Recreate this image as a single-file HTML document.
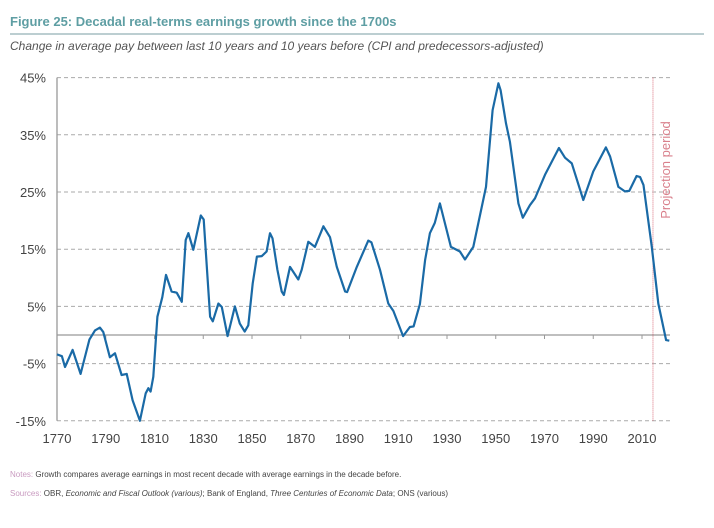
<!DOCTYPE html>
<html><head><meta charset="utf-8"><style>
body{margin:0;background:#fff;width:714px;height:528px;overflow:hidden;font-family:"Liberation Sans",sans-serif}
</style></head><body>
<svg width="714" height="528" style="position:absolute;left:0;top:0">
<text x="10" y="26" font-size="13" fill="#5e9ea3" font-weight="bold">Figure 25:  Decadal real-terms earnings growth since the 1700s</text>
<line x1="10" y1="34" x2="704" y2="34" stroke="#7a9ea3" stroke-width="1"/>
<text x="10" y="50" font-size="12" fill="#555" font-style="italic">Change in average pay between last 10 years and 10 years before (CPI and predecessors-adjusted)</text>
<g id="grid"></g>
<g id="axes"></g>
<path id="series" fill="none" stroke="#1a6aa6" stroke-width="2.2" stroke-linejoin="round"/>
<text x="10" y="477" font-size="8" fill="#444"><tspan fill="#c99bc0">Notes: </tspan>Growth compares average earnings in most recent decade with average earnings in the decade before.</text>
<text x="10" y="496" font-size="8" fill="#444"><tspan fill="#c99bc0">Sources: </tspan>OBR, <tspan font-style="italic">Economic and Fiscal Outlook (various)</tspan>; Bank of England, <tspan font-style="italic">Three Centuries of Economic Data</tspan>; ONS (various)</text>
</svg>
<script>
const years=[1770,1772,1773.3,1776.4,1779.7,1783.3,1785.6,1787.6,1789,1791.7,1793.8,1796.5,1798.6,1801,1804,1806.4,1807.5,1808.4,1809.5,1811.2,1813.2,1814.7,1817,1819.1,1821.2,1822.8,1823.9,1825.9,1829,1830.2,1832.8,1833.9,1836.2,1837.6,1840,1843,1845,1847,1848.5,1850.3,1852,1854,1856,1857.4,1858.4,1860.4,1862.2,1863.1,1865.6,1869,1870.4,1873.1,1875.8,1879.3,1882,1884.8,1888.2,1889,1893,1897.7,1899,1902.5,1905.9,1908,1912,1914.8,1916.3,1918.9,1921,1923,1925,1927.1,1931.6,1935.3,1937.4,1940.8,1946,1948.7,1951.1,1952,1954.2,1955.8,1959.3,1961.1,1964,1966.1,1970.2,1975.9,1978.4,1981.2,1985.9,1990,1995.2,1996.9,2000.3,2003,2004.8,2007.8,2009.2,2010.6,2014,2016.7,2019.9,2021.2];
const values=[-3.4,-3.7,-5.6,-2.6,-6.8,-0.8,0.8,1.3,0.5,-3.9,-3.2,-7,-6.8,-11.4,-15,-10.2,-9.3,-9.9,-7.3,3.2,6.6,10.5,7.6,7.4,5.8,16.6,17.8,14.9,20.9,20.2,3.2,2.4,5.5,4.9,-0.2,5,2,0.6,1.7,9,13.7,13.8,14.6,17.8,16.9,11.4,7.6,7,11.9,9.7,11.4,16.3,15.4,19,17.1,11.9,7.6,7.5,11.9,16.5,16.2,11.4,5.5,4.2,-0.2,1.4,1.5,5.4,13.1,17.8,19.6,23,15.4,14.6,13.2,15.4,25.9,39.3,44,42.8,37,33.8,23,20.5,22.7,23.9,28,32.7,31,30,23.6,28.6,32.8,31.2,25.9,25.1,25.2,27.8,27.6,26.2,15.4,5.5,-0.9,-1.0];
const yTicks=[45,35,25,15,5,-5,-15];
const yLabels=["45%","35%","25%","15%","5%","-5%","-15%"];
const xTicks=[1770,1790,1810,1830,1850,1870,1890,1910,1930,1950,1970,1990,2010];
const projectionYear=2014.5;
const X=y=>57+(y-1770)*2.4375, Y=v=>335-v*5.72;
const ns="http://www.w3.org/2000/svg";
function mk(tag,attrs,parent,txt){const e=document.createElementNS(ns,tag);for(const k in attrs)e.setAttribute(k,attrs[k]);if(txt!=null)e.textContent=txt;parent.appendChild(e);return e;}
const g=document.getElementById('grid'),a=document.getElementById('axes');
yTicks.forEach((v,i)=>{
 const l=mk('line',{x1:X(1770),x2:670,y1:Y(v),y2:Y(v),stroke:'#aaa','stroke-dasharray':'4,3','stroke-width':1},g);
 
 
 const t=mk('text',{x:46,y:Y(v)+5,'font-size':13,fill:'#444','text-anchor':'end'},a,yLabels[i]);
 
 
});
const ya=mk('line',{x1:X(1770),x2:X(1770),y1:Y(45),y2:Y(-15),stroke:'#999','stroke-width':1.3},a);


const xa=mk('line',{x1:X(1770),x2:670,y1:Y(0),y2:Y(0),stroke:'#999','stroke-width':1.3},a);


xTicks.forEach(yr=>{
 const tk=mk('line',{x1:X(yr),x2:X(yr),y1:Y(0),y2:Y(0)+4,stroke:'#999'},a);
 
 
 const t=mk('text',{x:X(yr),y:443,'font-size':13,fill:'#444','text-anchor':'middle'},a,String(yr));
 
 
});
const pl=mk('line',{x1:X(projectionYear),x2:X(projectionYear),y1:Y(45),y2:Y(-15),stroke:'#d9707e','stroke-dasharray':'1,1','stroke-width':1},a);


const pt=mk('text',{x:0,y:0,'font-size':13,fill:'#d9808c','text-anchor':'middle',transform:`translate(${X(projectionYear)+17},170) rotate(-90)`},a,'Projection period');


document.getElementById('series').setAttribute('d',years.map((yr,i)=>(i?'L':'M')+X(yr).toFixed(1)+','+Y(values[i]).toFixed(1)).join(''));
</script>
</body></html>
